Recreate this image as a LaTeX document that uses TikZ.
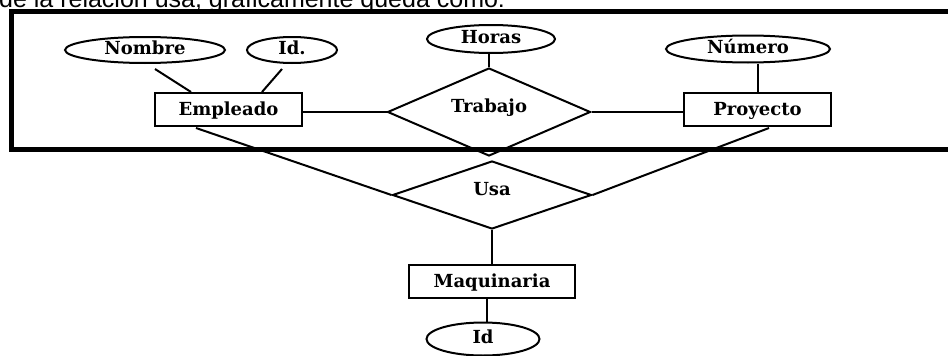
\documentclass[tikz,border=0pt]{standalone}
\usepackage{fontspec}
\usetikzlibrary{shapes.geometric,calc}
\newfontfamily\erfont{DejaVu Serif}
\newfontfamily\pagefont{Liberation Sans}
\begin{document}
\begin{tikzpicture}[x=1pt,y=-1pt,
  erline/.style={line width=2pt,black},
  lbl/.style={font=\erfont\bfseries\fontsize{18}{20}\selectfont},
  entity/.style={draw,erline,rectangle,inner sep=0pt,lbl,text height=12.5pt,text depth=0.5pt},
  attrib/.style={draw,erline,ellipse,inner sep=0pt,lbl,text height=12pt,text depth=4pt},
  relation/.style={draw,erline,diamond,inner sep=0pt,lbl,text height=6pt,text depth=6pt}]
\useasboundingbox (0,0) rectangle (948,356);
\clip (0,0) rectangle (948,356);
\fill[white] (0,0) rectangle (948,356);
% header text (cut off at top, as in the reference)
\node[font=\pagefont\fontsize{25}{28}\selectfont,anchor=base west,inner sep=0pt] (hdr) at (-1,7.5) {de la relación usa, gráficamente queda como:};
% thick frame
\draw[line width=5pt] (11,11) rectangle (975,149.5);
% entities
\node[entity,minimum width=147pt,minimum height=33pt] (emp) at (228.5,109.5) {Empleado};
\node[entity,minimum width=147pt,minimum height=33pt] (pro) at (757.5,109.5) {Proyecto};
\node[entity,minimum width=166pt,minimum height=33pt] (maq) at (492,281.5) {Maquinaria};
% attributes
\node[attrib,minimum width=160pt,minimum height=26pt] (nom) at (145,50) {Nombre};
\node[attrib,minimum width=90pt,minimum height=26pt] (idd) at (292,50) {Id.};
\node[attrib,minimum width=128pt,minimum height=28pt] (hor) at (491,39) {Horas};
\node[attrib,minimum width=164pt,minimum height=27pt] (num) at (748,49) {Número};
\node[attrib,minimum width=113pt,minimum height=33pt] (mid) at (483,339) {Id};
% relations
\node[relation,minimum width=203pt,minimum height=66pt] (tra) at (489,112) {Trabajo};
\node[relation,minimum width=199pt,minimum height=68pt] (usa) at (492,195) {Usa};
% connectors
\draw[erline] ($(nom.south)+(10,5)$) -- ($(emp.north west)+(37,0)$);
\draw[erline] ($(idd.south)+(-10,5)$) -- ($(emp.north west)+(108,0)$);
\draw[erline] (tra.north) -- (tra.north |- hor.south);
\draw[erline] (pro.north) -- (pro.north |- num.south);
\draw[erline] (tra.west -| emp.east) -- (tra.west);
\draw[erline] (tra.east) -- (tra.east -| pro.west);
\draw[erline] ($(emp.south west)+(42,1)$) -- (usa.west);
\draw[erline] ($(pro.south west)+(86,1)$) -- (usa.east);
\draw[erline] (usa.south) -- (maq.north);
\draw[erline] ($(maq.south)+(-5,0)$) -- ($(mid.north)+(4,0)$);
\end{tikzpicture}
\end{document}
